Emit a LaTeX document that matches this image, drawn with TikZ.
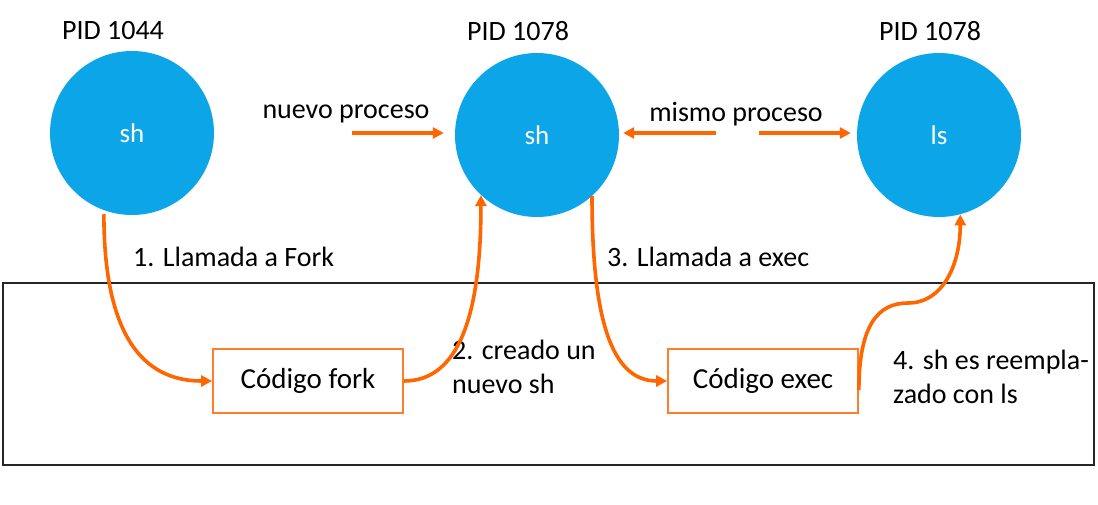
\documentclass[tikz,border=0pt]{standalone}
\usepackage{fontspec}
\setmainfont{Carlito}
\usetikzlibrary{arrows.meta,calc}
\definecolor{cblue}{RGB}{12,166,232}
\definecolor{corange}{RGB}{255,102,0}
\definecolor{cbox}{RGB}{255,125,45}
\tikzset{
  proc/.style={circle, fill=cblue, minimum size=164pt, inner sep=0pt, text=white, font=\fontsize{27}{32}\selectfont},
  codebox/.style={draw=cbox, line width=1.8pt, minimum width=190pt, minimum height=64pt, inner sep=0pt, font=\fontsize{29}{34}\selectfont},
  lbl/.style={font=\fontsize{28}{34}\selectfont, inner sep=0pt},
  flow/.style={draw=corange, line width=3.6pt, -{Triangle[length=11pt,width=11pt]}},
}
\begin{document}
\begin{tikzpicture}[x=1pt,y=-1pt]
\useasboundingbox (0,0) rectangle (1098,504);
\draw[line width=2pt, draw=black!85] (3,283) rectangle (1094,465);

\node[proc] (c1) at (132,133) {sh};
\node[proc] (c2) at (537,135) {sh};
\node[proc] (c3) at (939,135) {ls};

\node[lbl] (p1) at (113,31) {PID 1044};
\node[lbl] (p2) at (518,31) {PID 1078};
\node[lbl] (p3) at (930,31) {PID 1078};

\node[lbl] (np) at (346,114) {nuevo proceso};
\node[lbl] (mp) at (736,114) {mismo proceso};

\node[codebox] (f) at (308,381) {Código fork};
\node[codebox] (e) at (763,381) {Código exec};

\node[lbl, anchor=west] (l1) at (133,257) {1. Llamada a Fork};
\node[lbl, anchor=west, align=left] (l2) at (452,367) {2. creado un\\nuevo sh};
\node[lbl, anchor=west] (l3) at (607,257) {3. Llamada a exec};
\node[lbl, anchor=west, align=left] (l4) at (893,377) {4. sh es reempla-\\zado con ls};

\coordinate (a1) at (352,133);
\coordinate (a2) at (716,133);
\coordinate (a3) at (759,133);
\coordinate (m4) at (908,303);

\draw[flow] (a1) -- ($(c2.west)+(-11,-2)$);
\draw[flow] (a2) -- ($(c2.east)+(4,-2)$);
\draw[flow] (a3) -- ($(c3.west)+(-6,-2)$);

\draw[flow] ($(c1.-110)+(0,4)$) .. controls +(0,120) and +(-70,0) .. (f.west);
\draw[flow] (f.east) .. controls +(55,0) and +(0,120) .. (c2.-133);
\draw[flow] (c2.-48) .. controls +(0,125) and +(-55,0) .. (e.west);
\draw[flow] ($(e.east)+(0,9)$) .. controls +(0,-65) and +(-30,0) .. (m4) .. controls +(35,0) and +(0,50) .. (c3.-75);
\end{tikzpicture}
\end{document}
